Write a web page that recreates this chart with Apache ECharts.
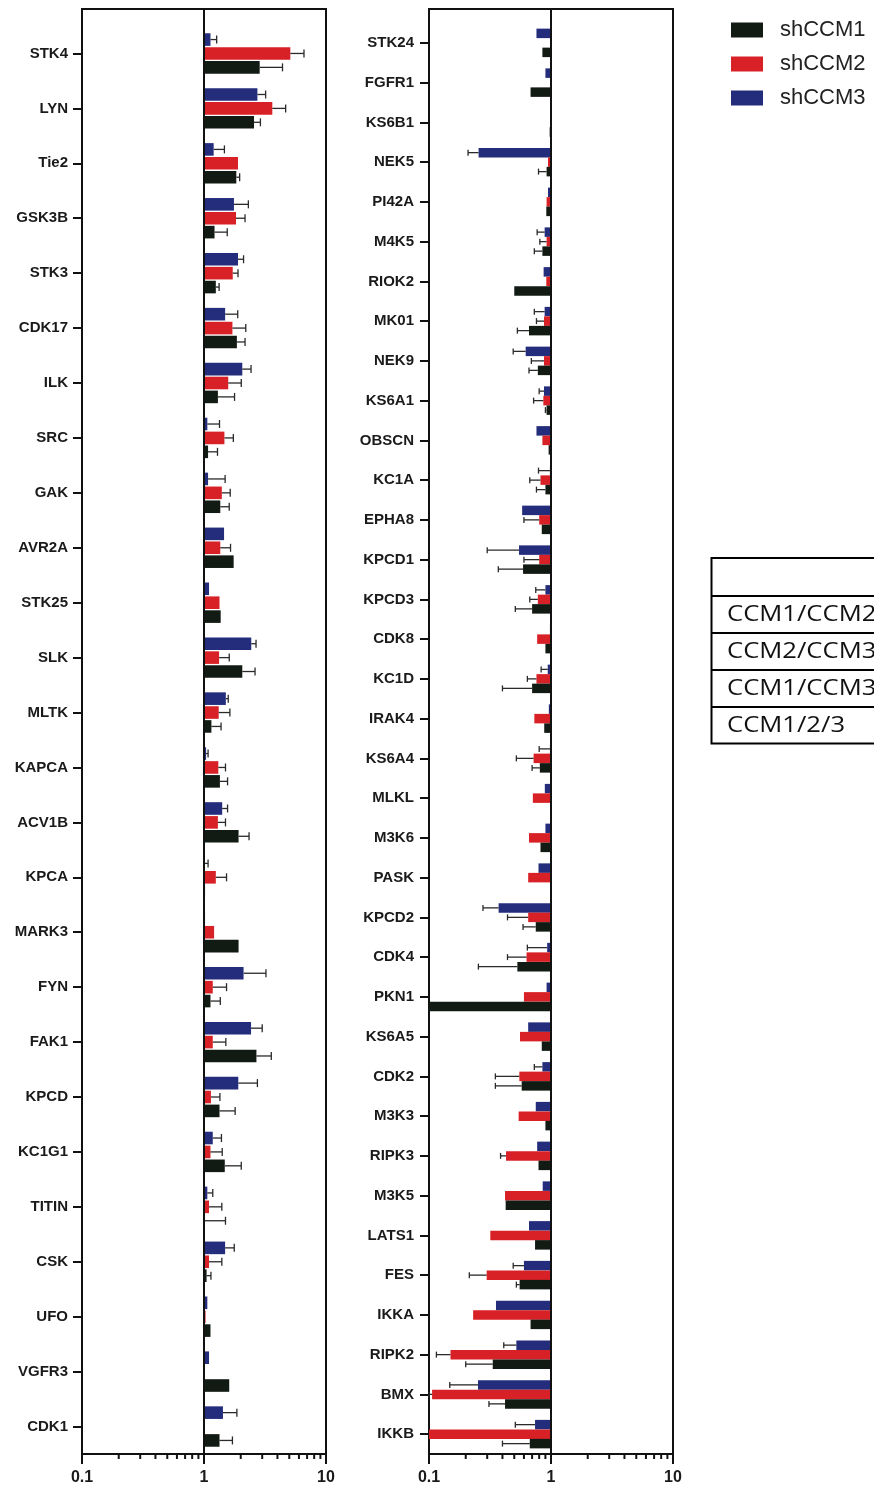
<!DOCTYPE html>
<html>
<head>
<meta charset="utf-8">
<script src="https://cdn.jsdelivr.net/npm/echarts@6/dist/echarts.min.js"></script>
<style>
  html, body { margin: 0; padding: 0; background: #ffffff; }
  #chart { width: 874px; height: 1488px; }
</style>
</head>
<body>
<div id="chart"></div>
<script>
// Fold change per kinase (log scale, 1 = no change); *Err = end value of the error whisker
const leftKinases = ['STK4','LYN','Tie2','GSK3B','STK3','CDK17','ILK','SRC','GAK','AVR2A','STK25','SLK','MLTK','KAPCA','ACV1B','KPCA','MARK3','FYN','FAK1','KPCD','KC1G1','TITIN','CSK','UFO','VGFR3','CDK1'];
const leftCCM1 = [2.86,2.57,1.84,1.22,1.25,1.86,1.30,1.08,1.36,1.75,1.37,2.06,1.15,1.35,1.92,1.02,1.92,1.13,2.69,1.34,1.48,1.01,1.05,1.13,1.61,1.34];
const leftCCM1Err = [4.4,2.9,1.96,1.55,1.33,2.17,1.78,1.29,1.61,null,null,2.62,1.38,1.56,2.34,null,null,1.36,3.56,1.8,2.02,1.5,1.14,null,null,1.71];
const leftCCM2 = [5.1,3.63,1.9,1.83,1.72,1.71,1.58,1.47,1.40,1.36,1.34,1.33,1.32,1.31,1.30,1.25,1.21,1.18,1.18,1.14,1.13,1.10,1.10,1.03,1.0,1.0];
const leftCCM2Err = [6.6,4.67,null,2.17,1.9,2.2,2.02,1.74,1.64,1.65,null,1.61,1.63,1.5,1.5,1.53,null,1.53,1.51,1.35,1.41,1.4,1.4,null,null,null];
const leftCCM3 = [1.13,2.74,1.2,1.76,1.9,1.49,2.06,1.065,1.08,1.46,1.1,2.44,1.51,1.04,1.41,1.01,1.02,2.11,2.43,1.91,1.18,1.065,1.49,1.065,1.1,1.43];
const leftCCM3Err = [1.27,3.2,1.47,2.31,2.11,1.89,2.43,1.34,1.49,null,null,2.67,1.58,1.08,1.56,1.08,null,3.22,3.0,2.74,1.39,1.18,1.77,null,null,1.86];

const rightKinases = ['STK24','FGFR1','KS6B1','NEK5','PI42A','M4K5','RIOK2','MK01','NEK9','KS6A1','OBSCN','KC1A','EPHA8','KPCD1','KPCD3','CDK8','KC1D','IRAK4','KS6A4','MLKL','M3K6','PASK','KPCD2','CDK4','PKN1','KS6A5','CDK2','M3K3','RIPK3','M3K5','LATS1','FES','IKKA','RIPK2','BMX','IKKB'];
const rightCCM1 = [0.85,0.68,0.975,0.92,0.915,0.85,0.50,0.66,0.78,0.92,0.956,0.90,0.84,0.59,0.70,0.90,0.70,0.88,0.81,1,0.82,1,0.75,0.53,0.1,0.84,0.575,0.90,0.79,0.425,0.74,0.553,0.68,0.333,0.42,0.67];
const rightCCM1Err = [null,null,null,0.79,null,0.73,null,0.53,0.66,0.9,null,0.76,null,0.37,0.51,null,0.40,null,0.70,null,null,null,0.59,0.254,null,null,0.35,null,null,null,null,0.52,null,0.20,0.31,0.40];
const rightCCM2 = [1,1,1,0.945,0.92,0.92,0.915,0.876,0.876,0.865,0.85,0.82,0.80,0.80,0.78,0.77,0.76,0.73,0.72,0.71,0.66,0.65,0.65,0.63,0.60,0.557,0.55,0.543,0.428,0.42,0.318,0.297,0.23,0.15,0.106,0.1];
const rightCCM2Err = [null,null,null,null,null,0.81,null,0.76,0.69,0.72,null,0.67,0.60,0.60,0.67,null,0.64,null,0.52,null,null,null,0.44,0.44,null,null,0.35,null,0.386,null,null,0.214,null,0.115,0.1,null];
const rightCCM3 = [0.76,0.90,1,0.255,0.945,0.887,0.87,0.887,0.62,0.876,0.76,0.98,0.58,0.547,0.90,0.98,0.94,0.96,0.98,0.89,0.90,0.79,0.372,0.93,0.92,0.65,0.85,0.75,0.77,0.855,0.66,0.60,0.354,0.52,0.252,0.74];
const rightCCM3Err = [null,null,null,0.209,null,0.77,null,0.73,0.49,0.80,null,0.79,null,0.30,0.75,null,0.83,null,0.80,null,null,null,0.277,0.64,null,null,0.73,null,null,null,null,0.49,null,0.41,0.148,0.51];

const seriesNames = ['shCCM1','shCCM2','shCCM3'];
const xTickMinor = [0.2,0.3,0.4,0.5,0.6,0.7,0.8,0.9,2,3,4,5,6,7,8,9];
const tableRows = ['CCM1/CCM2','CCM2/CCM3','CCM1/CCM3','CCM1/2/3'];

const colors = { shCCM1: '#121a14', shCCM2: '#d82126', shCCM3: '#242c7c' };
const ink = '#111111';
const labelFont = 'Liberation Sans, Arial, sans-serif';

// Panel geometry: an outer frame grid plus an inner category grid
const panels = [
  { frame: { left: 82, right: 548, top: 9, bottom: 34 }, dataTop: 26,
    cats: leftKinases, vals: [leftCCM1, leftCCM2, leftCCM3], errs: [leftCCM1Err, leftCCM2Err, leftCCM3Err],
    barW: 12.6, gap: 1.3, cap: 4, labelMargin: 14 },
  { frame: { left: 429, right: 201, top: 9, bottom: 34 }, dataTop: 23,
    cats: rightKinases, vals: [rightCCM1, rightCCM2, rightCCM3], errs: [rightCCM1Err, rightCCM2Err, rightCCM3Err],
    barW: 9.5, gap: 0, cap: 3, labelMargin: 15 }
];

const grid = [], xAxis = [], yAxis = [], series = [];

panels.forEach((p, pi) => {
  const fi = grid.length;
  grid.push(Object.assign({ show: true, borderColor: ink, borderWidth: 2, containLabel: false }, p.frame));
  const di = grid.length;
  grid.push({ left: p.frame.left, right: p.frame.right, top: p.dataTop, bottom: p.frame.bottom });

  // frame axes: log x with labels, hidden helper y
  xAxis.push({
    type: 'log', gridIndex: fi, min: 0.1, max: 10, logBase: 10,
    axisLine: { show: true, lineStyle: { color: ink, width: 2 } },
    axisTick: { show: true, length: 10, inside: false, lineStyle: { color: ink, width: 2 } },
    axisLabel: { fontFamily: labelFont, fontWeight: 'bold', fontSize: 16, color: '#1a1a1a', margin: 16,
      formatter: v => String(Math.round(v * 10) / 10) },
    splitLine: { show: false }
  });
  yAxis.push({ type: 'value', gridIndex: fi, min: 0, max: 1, show: false });

  // data axes
  xAxis.push({ type: 'log', gridIndex: di, min: 0.1, max: 10, logBase: 10, show: false });
  yAxis.push({
    type: 'category', gridIndex: di, data: p.cats, inverse: true,
    axisLine: { show: false },
    axisTick: { show: true, alignWithLabel: true, length: 9, lineStyle: { color: ink, width: 2 } },
    axisLabel: { fontFamily: labelFont, fontWeight: 'bold', fontSize: 15, color: '#1a1a1a', margin: p.labelMargin }
  });

  const fx = xAxis.length - 2, fy = yAxis.length - 2;
  const dx = xAxis.length - 1, dy = yAxis.length - 1;

  // bars: shCCM3 on top, shCCM2 middle, shCCM1 bottom of each group
  const order = [2, 1, 0];
  order.forEach((si) => {
    const name = seriesNames[si];
    series.push({
      type: 'bar', name: name, xAxisIndex: dx, yAxisIndex: dy,
      data: p.vals[si], barWidth: p.barW, barGap: (p.gap / p.barW * 100) + '%',
      itemStyle: { color: colors[name] },
      emphasis: { disabled: true }, animation: false, z: 2
    });
  });
  // error whiskers
  order.forEach((si, slot) => {
    const vals = p.vals[si], errs = p.errs[si];
    const data = [];
    errs.forEach((e, i) => { if (e != null) data.push([vals[i], i, e]); });
    const shift = (slot - 1) * (p.barW + p.gap);
    series.push({
      type: 'custom', name: seriesNames[si] + ' error', xAxisIndex: dx, yAxisIndex: dy,
      data: data, encode: { x: [0, 2], y: 1 }, animation: false, z: 3, silent: true,
      renderItem: (params, api) => {
        const a = api.coord([api.value(0), api.value(1)]);
        const b = api.coord([api.value(2), api.value(1)]);
        const y = a[1] + shift;
        const st = { stroke: '#2a2a2a', lineWidth: 1.3 };
        return { type: 'group', children: [
          { type: 'line', shape: { x1: a[0], y1: y, x2: b[0], y2: y }, style: st },
          { type: 'line', shape: { x1: b[0], y1: y - p.cap, x2: b[0], y2: y + p.cap }, style: st }
        ] };
      }
    });
  });
  // reference line at fold change 1 spanning the frame
  series.push({
    type: 'custom', name: 'baseline' + pi, xAxisIndex: fx, yAxisIndex: fy,
    data: [[1, 0]], animation: false, silent: true, z: 4,
    renderItem: (params, api) => {
      const t = api.coord([1, 1]), b = api.coord([1, 0]);
      return { type: 'line', shape: { x1: t[0], y1: t[1], x2: b[0], y2: b[1] }, style: { stroke: ink, lineWidth: 2 } };
    }
  });
  // minor log ticks below the x axis
  series.push({
    type: 'custom', name: 'minor' + pi, xAxisIndex: fx, yAxisIndex: fy,
    data: xTickMinor.map(v => [v, 0]), animation: false, silent: true, clip: false, z: 4,
    renderItem: (params, api) => {
      const c = api.coord([api.value(0), 0]);
      return { type: 'line', shape: { x1: c[0], y1: c[1], x2: c[0], y2: c[1] + 5 }, style: { stroke: ink, lineWidth: 2 } };
    }
  });
});

// Side table of pairings
const tbl = { x: 711.5, top: 558, rowLines: [596, 633, 670, 707], bottom: 743.5, width: 260 };
const tableChildren = [
  { type: 'rect', shape: { x: tbl.x, y: tbl.top, width: tbl.width, height: tbl.bottom - tbl.top },
    style: { fill: 'none', stroke: '#000', lineWidth: 2 } }
];
tbl.rowLines.forEach(y => tableChildren.push({
  type: 'line', shape: { x1: tbl.x, y1: y, x2: tbl.x + tbl.width, y2: y }, style: { stroke: '#000', lineWidth: 2 }
}));
const rowEdges = tbl.rowLines.concat([tbl.bottom]);
tableRows.forEach((t, i) => tableChildren.push({
  type: 'text', x: 727, y: (rowEdges[i] + rowEdges[i + 1]) / 2 + 0.5, scaleX: 1.22,
  style: { text: t, fontFamily: 'Open Sans, sans-serif', fontSize: 21, fill: '#111', textVerticalAlign: 'middle', textAlign: 'left' }
}));

const chart = echarts.init(document.getElementById('chart'), null, { renderer: 'canvas' });
chart.setOption({
  backgroundColor: '#ffffff',
  animation: false,
  grid, xAxis, yAxis, series,
  legend: {
    data: seriesNames, orient: 'vertical', left: 731, top: 19, padding: 0,
    itemWidth: 32, itemHeight: 15, itemGap: 12, icon: 'rect', selectedMode: false,
    textStyle: { fontFamily: labelFont, fontSize: 22, color: '#222', padding: [0, 0, 0, 12] }
  },
  graphic: [{ type: 'group', children: tableChildren }]
});
</script>
</body>
</html>
